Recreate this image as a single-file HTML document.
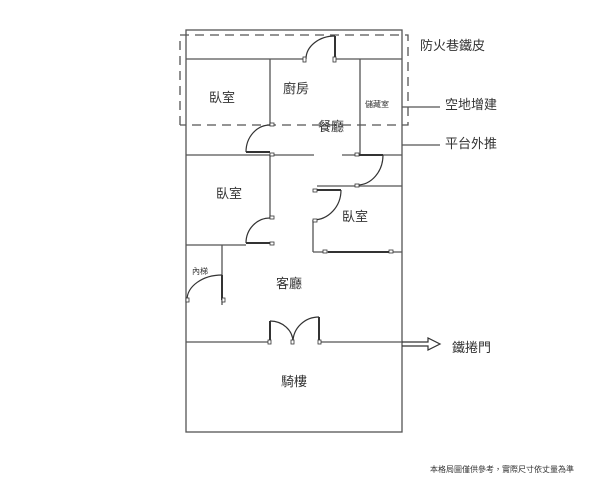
<!DOCTYPE html>
<html><head><meta charset="utf-8"><style>
html,body{margin:0;padding:0;background:#fff;}
svg{display:block;}
text{font-family:"Liberation Sans","Noto Sans CJK TC",sans-serif;fill:#333;}
</style></head><body>
<svg width="600" height="480" viewBox="0 0 600 480" xmlns="http://www.w3.org/2000/svg">
<rect width="600" height="480" fill="#fff"/>
<g stroke="#555" stroke-width="1.3" fill="none">
<rect x="186" y="30" width="216" height="402"/>
<line x1="186" y1="59" x2="306" y2="59"/>
<line x1="335" y1="59" x2="402" y2="59"/>
<line x1="270" y1="59" x2="270" y2="125"/>
<line x1="360" y1="59" x2="360" y2="155"/>
<line x1="186" y1="155" x2="314" y2="155"/>
<line x1="342" y1="155" x2="402" y2="155"/>
<line x1="270" y1="155" x2="270" y2="218"/>
<line x1="186" y1="245" x2="246" y2="245"/>
<line x1="317" y1="186" x2="402" y2="186"/>
<line x1="313" y1="220" x2="313" y2="252"/>
<line x1="313" y1="252" x2="402" y2="252"/>
<line x1="222" y1="245" x2="222" y2="305"/>
<line x1="186" y1="342" x2="270" y2="342"/>
<line x1="319" y1="342" x2="402" y2="342"/>
<line x1="402" y1="145" x2="440" y2="145"/>
<line x1="402" y1="107" x2="440" y2="107"/>
</g>
<g stroke="#555" stroke-width="1.3" fill="none" stroke-dasharray="9,6">
<path d="M180 125 V35 H408 V125 H180"/>
</g>
<g stroke="#333" stroke-width="1.2" fill="none">
<line x1="335" y1="36" x2="335" y2="59" stroke-width="2"/><path d="M335 36 A29 23 0 0 0 306 59"/>
<line x1="246" y1="152" x2="270" y2="152" stroke-width="2"/><path d="M270 125 A24 27 0 0 0 246 152"/>
<line x1="246" y1="243" x2="272" y2="243" stroke-width="2"/><path d="M270 218 A24 25 0 0 0 246 243"/>
<line x1="357" y1="155" x2="383" y2="155" stroke-width="2"/><path d="M383 155 A26 30 0 0 1 357 185"/>
<line x1="313" y1="190" x2="341" y2="190" stroke-width="2"/><path d="M341 190 A28 30 0 0 1 313 220"/>
<line x1="222" y1="275" x2="222" y2="300" stroke-width="2"/><path d="M222 275 A35 25 0 0 0 187 300"/>
<line x1="270" y1="321" x2="270" y2="342" stroke-width="2"/><path d="M270 321 A23 21 0 0 1 293 342"/>
<line x1="319" y1="317" x2="319" y2="342" stroke-width="2"/><path d="M319 317 A26 25 0 0 0 293 342"/>
<line x1="328" y1="252" x2="389" y2="252" stroke-width="2"/>
<path d="M402 342 H428 V338 L440 344 L428 350 V346 H402"/>
</g>
<g fill="#fff" stroke="#333" stroke-width="0.8">
<rect x="303" y="57" width="3" height="5"/><rect x="333" y="57" width="3" height="5"/>
<rect x="270" y="123" width="4" height="3"/><rect x="270" y="153" width="4" height="3"/>
<rect x="270" y="216" width="4" height="3"/><rect x="270" y="242" width="4" height="3"/>
<rect x="355" y="153" width="4" height="3"/><rect x="355" y="184" width="4" height="3"/>
<rect x="313" y="189" width="4" height="3"/><rect x="313" y="219" width="4" height="3"/>
<rect x="323" y="250" width="4" height="3"/><rect x="389" y="250" width="4" height="3"/>
<rect x="186" y="298" width="3" height="4"/><rect x="222" y="298" width="3" height="4"/>
<rect x="268" y="340" width="3" height="4"/><rect x="291" y="340" width="3" height="4"/><rect x="318" y="340" width="3" height="4"/>
</g>
<g font-size="13">
<text x="209" y="102">臥室</text>
<text x="283" y="93">廚房</text>
<text x="318" y="131">餐廳</text>
<text x="216" y="198">臥室</text>
<text x="342" y="221">臥室</text>
<text x="276" y="288">客廳</text>
<text x="281" y="386">騎樓</text>
<text x="420" y="50">防火巷鐵皮</text>
<text x="445" y="109">空地增建</text>
<text x="445" y="148">平台外推</text>
<text x="452" y="352">鐵捲門</text>
</g>
<text x="365" y="107" font-size="8">儲藏室</text>
<text x="192" y="274" font-size="8">內梯</text>
<text x="430" y="472" font-size="8" fill="#777">本格局圖僅供參考，實際尺寸依丈量為準</text>
</svg>
</body></html>
